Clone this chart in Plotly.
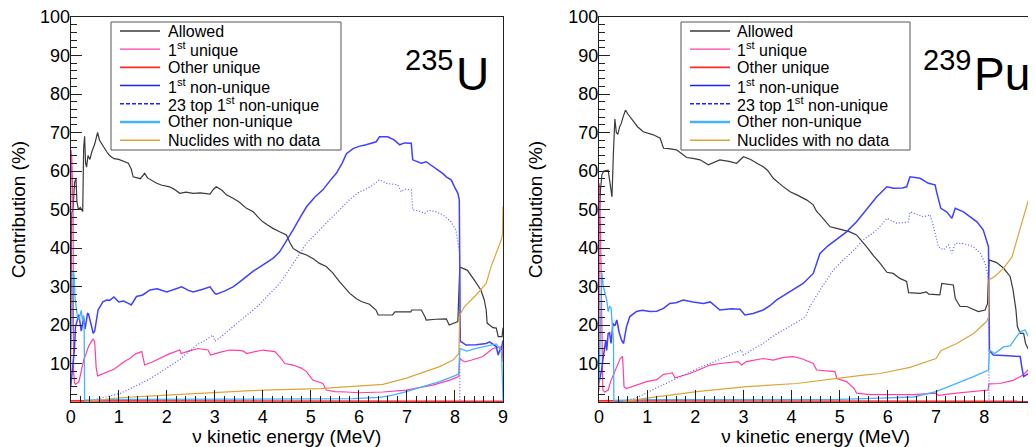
import plotly.graph_objects as go

# ---------------- data: (E [MeV], contribution [%]) ----------------
u_allowed = [(0,18),(0.02,49),(0.05,50),(0.08,57),(0.11,58),(0.13,52),(0.16,50),(0.2,50.5),(0.25,49.5),
    (0.27,66),(0.29,69),(0.31,62),(0.33,61),(0.36,64),(0.4,63),(0.44,65),(0.5,67),(0.56,70),(0.6,68),
    (0.67,66.5),(0.75,65),(0.81,64),(0.9,63.2),(1.0,63),(1.1,62.5),(1.2,62),(1.26,60.5),(1.3,58.5),
    (1.45,58),(1.54,59.4),(1.6,58.2),(1.72,57.2),(1.79,56.8),(1.9,56.3),(2.06,55.9),(2.15,55.3),
    (2.27,54.2),(2.4,54.5),(2.55,54.2),(2.7,54.3),(2.9,54),(2.97,55.2),(3.03,55.9),(3.15,55),
    (3.24,53.8),(3.38,52.9),(3.5,52),(3.66,50.3),(3.8,49.4),(3.9,48),(4.0,46.8),(4.1,46),(4.21,45.1),
    (4.35,44.2),(4.49,43.4),(4.56,41.5),(4.63,39.9),(4.77,38.8),(4.91,38.2),(5.05,37.2),(5.18,36),
    (5.32,35.2),(5.45,33.6),(5.6,31.2),(5.74,29.1),(5.81,28.2),(5.95,26.8),(6.05,26.1),(6.22,25.4),
    (6.36,23.8),(6.4,22.6),(6.7,22.6),(6.75,23.4),(7.08,23.4),(7.1,23.9),(7.3,23.9),(7.38,22),
    (7.4,21.3),(7.6,21.5),(7.82,21.6),(7.88,20),(8.06,20.9),(8.1,35.1),(8.26,34.2),(8.4,31.7),
    (8.54,29.1),(8.61,26.5),(8.65,23.9),(8.67,20.5),(8.79,19.3),(8.86,19.2),(8.9,17),(8.98,17),(9.0,19.3)]
u_first_unique = [(0,3),(0.005,65.5),(0.02,64),(0.035,58),(0.05,48),(0.06,8),(0.08,5),(0.1,4.6),
    (0.17,5.2),(0.22,8),(0.27,10.9),(0.32,12.5),(0.37,14.4),(0.42,15.5),(0.47,16.4),(0.5,15.5),
    (0.53,9),(0.56,6.8),(0.67,7.4),(0.8,8),(0.9,8.5),(1.02,9.6),(1.1,10.4),(1.23,11.3),(1.35,12.5),
    (1.48,13.1),(1.51,11.5),(1.54,9.6),(1.7,10.4),(1.86,11.3),(2.05,12.5),(2.27,13.5),(2.3,12.6),
    (2.45,13.2),(2.65,13.9),(2.86,13.5),(2.91,12.2),(3.1,12.9),(3.31,13.5),(3.5,13.4),(3.6,13.2),
    (3.66,12.6),(3.85,13.2),(4.0,13.5),(4.25,13.1),(4.35,11.8),(4.46,10),(4.63,9.6),(4.8,8.8),
    (4.91,7.9),(5.04,5.7),(5.25,4.8),(5.32,3.1),(5.5,2.7),(5.74,2.6),(6.0,2.4),(6.5,2.6),(6.99,3.1),
    (7.2,3.6),(7.54,4.4),(7.89,5.7),(8.08,6.6),(8.1,11.3),(8.2,10.4),(8.35,10.9),(8.58,11.8),
    (8.79,13.9),(8.93,14.3),(8.98,14.4),(9.0,10.4)]
u_other_unique = [(0,0.3),(0.3,0.3),(9.0,0.2)]
u_first_nonunique = [(0,4),(0.04,10),(0.08,14),(0.1,19.6),(0.13,21),(0.17,22.7),(0.22,18.4),(0.25,21),
    (0.27,21.9),(0.3,19),(0.32,20.4),(0.35,23),(0.37,22.9),(0.42,20),(0.47,17.8),(0.5,18.5),(0.57,23.9),
    (0.67,26),(0.75,26.5),(0.81,26.4),(0.9,27.3),(1.0,26),(1.1,26.2),(1.2,25.6),(1.26,25.2),(1.37,27.4),
    (1.5,27.8),(1.65,29.1),(1.8,29.4),(2.0,28.6),(2.15,29.2),(2.31,29.9),(2.45,29),(2.55,28.6),
    (2.75,29.3),(2.9,29.9),(3.0,28.2),(3.03,28),(3.2,28.8),(3.38,29.9),(3.5,31),(3.66,32.6),(3.8,34),
    (3.94,35.1),(4.1,36.4),(4.21,37.3),(4.35,39),(4.46,41.2),(4.55,43),(4.63,44.7),(4.78,48),(4.91,50.7),
    (5.08,53.2),(5.25,55.1),(5.4,57.5),(5.53,59.4),(5.65,62),(5.74,64.5),(5.88,65.8),(6.0,66.4),
    (6.15,66.8),(6.36,67.6),(6.43,68.9),(6.6,68.9),(6.74,68),(6.85,66.8),(6.95,67.3),(7.09,67.2),
    (7.12,62.9),(7.3,62),(7.4,62.4),(7.5,61.5),(7.61,60.7),(7.75,59.3),(7.82,58.5),(7.92,57.7),
    (7.99,55.9),(8.06,54.2),(8.09,52.5),(8.11,15.8),(8.15,15.5),(8.23,14.8),(8.44,14.9),(8.65,15.2),
    (8.72,15.6),(8.86,14.4),(8.9,12.2),(8.94,13.8),(8.96,13.5),(9.0,16)]
u_top23 = [(0.3,0),(0.4,0.3),(0.6,1),(0.8,1.5),(1.02,2.2),(1.2,3.2),(1.44,4.6),(1.65,6),(1.85,7.6),
    (2.05,9.2),(2.27,11),(2.45,13),(2.62,14.8),(2.8,16),(2.96,17.4),(3.0,15.8),(3.1,16.6),(3.38,19.6),
    (3.6,21.8),(3.8,23.9),(3.95,25.6),(4.07,27.2),(4.2,28.8),(4.35,30.8),(4.5,33.5),(4.63,36),
    (4.78,38.8),(4.91,41.2),(5.05,43),(5.18,44.7),(5.4,47.5),(5.6,49.9),(5.8,52.5),(6.01,54.6),
    (6.1,55),(6.25,56),(6.43,57.7),(6.57,56.8),(6.81,56.4),(6.88,54.6),(6.95,55.3),(7.09,55.1),
    (7.12,49.9),(7.25,49.6),(7.37,49),(7.45,49.8),(7.61,49.4),(7.75,48.6),(7.92,46.8),(8.02,44.7),
    (8.08,40.3),(8.1,38.6),(8.1,0),(9.0,0)]
u_other_nonunique = [(0,13.5),(0.03,20),(0.05,34.3),(0.07,33),(0.09,27),(0.12,23),(0.14,22.2),
    (0.17,21.4),(0.2,22.9),(0.22,23.8),(0.24,21.5),(0.27,22.5),(0.28,20),(0.29,0.5),(1.0,0.7),(3.0,0.7),
    (5.0,0.8),(5.88,0.9),(6.43,1.2),(6.7,1.8),(6.99,2.7),(7.33,4.0),(7.68,5.3),(8.03,7.0),(8.08,7.4),
    (8.1,13.9),(8.25,13.2),(8.44,13.9),(8.72,14.8),(8.86,15.1),(8.93,13.9),(8.97,12.8),(9.0,0.5)]
u_no_data = [(0.3,0.1),(0.6,0.5),(1.02,1.1),(1.71,1.6),(2.4,2.0),(3.1,2.4),(4.0,3.1),(5.18,3.5),
    (5.81,4.0),(6.5,4.6),(6.99,6.2),(7.33,7.6),(7.68,9.2),(7.96,10.9),(8.08,12.6),(8.1,22.6),
    (8.2,24.8),(8.44,27.8),(8.65,30.8),(8.75,35.1),(8.86,38.5),(8.96,42),(8.99,43.5),(9.0,50.8)]

pu_allowed = [(0,45),(0.03,55),(0.06,59),(0.1,60),(0.19,60.2),(0.22,57.6),(0.25,55),(0.27,53.3),
    (0.3,65),(0.33,73.5),(0.36,70),(0.39,69.5),(0.43,71.5),(0.46,72.3),(0.5,74),(0.55,75.8),(0.6,74.8),
    (0.71,72.8),(0.8,71.5),(0.92,70.2),(1.05,69.8),(1.13,69.4),(1.27,68.5),(1.34,65.9),(1.45,65.8),
    (1.61,65.5),(1.72,64.5),(1.82,63.5),(1.95,63.3),(2.1,62.9),(2.27,61.6),(2.4,62.3),(2.51,62.9),
    (2.7,62.5),(2.86,62),(3.0,63.7),(3.15,63),(3.28,62),(3.41,61.1),(3.5,60.2),(3.62,58.1),(3.8,56.2),
    (3.97,54.6),(4.11,53.8),(4.31,52.5),(4.45,51.2),(4.52,49.5),(4.59,48.6),(4.73,46.4),(4.8,45.5),
    (4.94,45.1),(5.21,44.2),(5.35,43.4),(5.45,42),(5.56,40.3),(5.7,38),(5.84,36),(5.98,33.7),
    (6.11,33.4),(6.25,32.1),(6.39,31.3),(6.43,28.4),(6.67,28.2),(6.8,28.6),(6.85,28),(7.08,27.8),
    (7.12,30.8),(7.36,30.4),(7.4,26.9),(7.5,24.8),(7.64,24.8),(7.88,23.5),(8.02,23.9),(8.07,25.6),
    (8.1,36.9),(8.26,36.2),(8.4,34.8),(8.54,32.6),(8.6,29.1),(8.66,24),(8.69,19.6),(8.75,17.8),
    (8.82,17.8),(8.86,15.2),(8.96,12.6),(9.0,13)]
pu_first_unique = [(0,3),(0.005,56.8),(0.03,45),(0.05,21),(0.07,5),(0.08,3.1),(0.12,2.6),(0.19,3.1),
    (0.24,5.3),(0.34,8.3),(0.44,11.3),(0.49,11.8),(0.52,4),(0.57,3.5),(0.8,4.5),(0.99,5.3),(1.2,5.8),
    (1.34,7.2),(1.47,7.4),(1.52,7.6),(1.58,6.3),(1.89,7.4),(2.1,8.5),(2.31,9.6),(2.51,10),(2.89,10.5),
    (2.96,9.6),(3.06,10.5),(3.41,11.3),(3.62,10.9),(3.83,11.6),(4.03,11.8),(4.2,11.3),(4.28,10.9),
    (4.45,10),(4.52,8.3),(4.9,7.9),(4.94,6.1),(5.14,5.3),(5.3,3.5),(5.35,2.3),(5.63,1.9),(6.0,1.9),
    (6.53,1.9),(7.0,2.3),(7.05,1.7),(7.43,2.3),(7.78,2.7),(8.08,3.1),(8.1,4.7),(8.32,4.8),(8.6,5.6),
    (8.81,7),(8.91,8.3),(8.97,8.7),(9.0,5)]
pu_other_unique = [(0,0.3),(0.3,0.3),(9.0,0.2)]
pu_first_nonunique = [(0,5),(0.05,8),(0.08,10.9),(0.12,14),(0.14,16.1),(0.16,13.4),(0.19,17.8),
    (0.22,18),(0.25,15.2),(0.29,20.4),(0.33,19.8),(0.37,21.3),(0.42,18),(0.47,16),(0.51,15.2),
    (0.57,19.5),(0.64,22.2),(0.78,23.5),(0.9,23.8),(1.06,23.5),(1.2,23.6),(1.34,24.3),(1.47,25.6),
    (1.6,25.8),(1.75,26.5),(1.95,26),(2.17,25.6),(2.31,26),(2.51,23.9),(2.75,24.2),(2.93,24.1),
    (3.03,22.6),(3.2,23),(3.41,23.9),(3.55,25),(3.69,26.5),(3.97,28.7),(4.1,29.5),(4.24,30.8),
    (4.45,33.4),(4.59,38.6),(4.75,40.5),(4.87,41.6),(5.14,44.2),(5.35,46.8),(5.55,50),(5.77,53.3),
    (5.98,55.9),(6.12,55.5),(6.3,55.6),(6.39,55.9),(6.46,58.5),(6.67,58.1),(6.84,56.8),(6.98,56.4),
    (7.02,54.2),(7.1,50.3),(7.22,49.4),(7.33,47.7),(7.4,50.3),(7.57,49.4),(7.71,48.1),(7.85,46.8),
    (7.98,44.7),(8.05,42.1),(8.09,40.3),(8.11,13.3),(8.19,12.2),(8.5,12),(8.75,11.8),(8.78,9.2),
    (8.82,6.6),(8.92,7.4),(9.0,8.3)]
pu_top23 = [(0.35,0),(0.5,0.2),(0.8,1.2),(1.06,2.7),(1.25,4),(1.47,5.3),(1.7,6.7),(1.89,7.9),(2.1,9),
    (2.31,10),(2.5,11.1),(2.72,12.2),(2.96,13.5),(3.0,12.2),(3.2,13.7),(3.41,15.2),(3.6,17),(3.83,18.7),
    (4.05,20.2),(4.24,21.7),(4.3,22.5),(4.38,24.8),(4.59,29.1),(4.75,32),(4.87,34.3),(5.14,37.7),
    (5.3,39.5),(5.49,42.1),(5.77,44.7),(5.9,46.5),(5.98,47.7),(6.19,46.4),(6.43,46.8),(6.46,49.4),
    (6.74,48.1),(6.88,48.6),(6.95,45.5),(7.05,40.3),(7.15,39.5),(7.26,40.8),(7.33,38.6),(7.4,41.2),
    (7.57,41.2),(7.78,40.3),(7.92,38.6),(8.02,36),(8.07,33.4),(8.1,31),(8.1,0),(9.0,0)]
pu_other_nonunique = [(0,5),(0.03,20),(0.06,33.5),(0.09,30),(0.13,28),(0.16,26.5),(0.19,23.5),
    (0.22,24.8),(0.25,24.5),(0.27,21),(0.3,16),(0.31,0.4),(1.0,0.6),(3.0,0.6),(5.0,0.7),(5.84,1.0),
    (6.53,1.3),(7.0,2.7),(7.43,4.8),(7.78,6.6),(8.09,8.3),(8.11,13.5),(8.22,12.6),(8.4,14.3),
    (8.54,14.6),(8.68,17),(8.75,18.3),(8.85,18.7),(8.92,17),(8.96,16.5),(9.0,1)]
pu_no_data = [(0.5,0.1),(0.99,1.0),(2.03,2.7),(3.07,4.0),(4.1,4.8),(4.8,6.0),(5.49,7.0),(5.84,7.4),
    (6.46,9.0),(7.0,11.3),(7.1,13.3),(7.43,15.2),(7.78,17.8),(8.05,20.9),(8.09,22),(8.1,31.7),
    (8.22,32.6),(8.4,34.7),(8.58,37.7),(8.68,42.1),(8.78,46.4),(8.89,51.6),(8.96,54.2),(8.99,57),
    (9.0,65.5)]

series_names = ["Allowed", "1<sup>st</sup> unique", "Other unique", "1<sup>st</sup> non-unique",
                "23 top 1<sup>st</sup> non-unique", "Other non-unique", "Nuclides with no data"]
x_ticks = list(range(0, 10))
y_ticks = list(range(10, 101, 10))
nuclides = [("235", "U"), ("239", "Pu")]

# ---------------- styles ----------------
FONT = "Liberation Sans, Arial, Helvetica, sans-serif"
styles = [
    dict(color="#3a3a3a", width=1.2, dash="solid"),
    dict(color="#ff3fa4", width=1.2, dash="solid"),
    dict(color="#ff2a2a", width=1.6, dash="solid"),
    dict(color="#4040ff", width=1.5, dash="solid"),
    dict(color="#5a5aff", width=1.2, dash="1px,2px"),
    dict(color="#45b2ff", width=1.3, dash="solid"),
    dict(color="#dba53a", width=1.2, dash="solid"),
]
legend_styles = [
    dict(color="#3a3a3a", width=1.3, dash="solid"),
    dict(color="#ff3fa4", width=1.3, dash="solid"),
    dict(color="#ff2a2a", width=1.6, dash="solid"),
    dict(color="#2020ff", width=1.5, dash="solid"),
    dict(color="#2020ff", width=1.5, dash="4px,2px"),
    dict(color="#45b2ff", width=2.5, dash="solid"),
    dict(color="#dba53a", width=1.5, dash="solid"),
]

# page body has an 8 px margin: the figure is placed at (8, 8) in the window
OFF = 8
WIN_W, WIN_H = 1036, 447
W, H = WIN_W - OFF, WIN_H - OFF
def px(x): return (x - OFF) / W
def py(y): return 1 - (y - OFF) / H

panels = [
    dict(data=[u_allowed, u_first_unique, u_other_unique, u_first_nonunique, u_top23,
               u_other_nonunique, u_no_data], xa="x", ya="y", dom=(70.7, 503.0),
         leg=(111, 341, 120, 160, 167), lab=(454, 455)),
    dict(data=[pu_allowed, pu_first_unique, pu_other_unique, pu_first_nonunique, pu_top23,
               pu_other_nonunique, pu_no_data], xa="x2", ya="y2", dom=(599.0, 1032.3),
         leg=(681, 910, 690, 730, 736), lab=(972, 973)),
]

fig = go.Figure()
shapes, annotations = [], []
for p, (num, sym) in zip(panels, nuclides):
    for ser, st, name in zip(p["data"], styles, series_names):
        fig.add_trace(go.Scatter(x=[a for a, b in ser], y=[b for a, b in ser], mode="lines",
                                 line=st, name=name, xaxis=p["xa"], yaxis=p["ya"],
                                 showlegend=False, hoverinfo="skip"))
    lx0, lx1, sx0, sx1, tx = p["leg"]
    shapes.append(dict(type="rect", xref="paper", yref="paper", x0=px(lx0), x1=px(lx1),
                       y0=py(150), y1=py(22), line=dict(color="#555", width=1),
                       fillcolor="white", layer="above"))
    for i, (name, st) in enumerate(zip(series_names, legend_styles)):
        yy = 31 + 18.2 * i
        shapes.append(dict(type="line", xref="paper", yref="paper", x0=px(sx0), x1=px(sx1),
                           y0=py(yy), y1=py(yy), line=st, layer="above"))
        annotations.append(dict(text=name, xref="paper", yref="paper", x=px(tx), y=py(yy),
                                xanchor="left", yanchor="middle", showarrow=False, borderpad=0,
                                font=dict(family=FONT, size=16, color="black")))
    annotations.append(dict(text=num, xref="paper", yref="paper", x=px(p["lab"][0]), y=py(60),
                            xanchor="right", yanchor="middle", showarrow=False, borderpad=0,
                            font=dict(family=FONT, size=29, color="black")))
    annotations.append(dict(text=sym, xref="paper", yref="paper", x=px(p["lab"][1]), y=py(74),
                            xanchor="left", yanchor="middle", showarrow=False, borderpad=0,
                            font=dict(family=FONT, size=46, color="black")))

def xaxis(dom):
    return dict(domain=[px(dom[0]), px(dom[1])], range=[0, 9], tickmode="array", tickvals=x_ticks,
                ticks="inside", ticklen=12, tickwidth=1, tickcolor="#222", automargin=False,
                ticklabelstandoff=-2, ticklabeloverflow="allow",
                minor=dict(tickmode="linear", tick0=0, dtick=0.2, ticks="inside", ticklen=6,
                           tickwidth=1, tickcolor="#222"),
                showline=True, linecolor="#222", linewidth=1, mirror=True, showgrid=False,
                zeroline=False, tickfont=dict(family=FONT, size=18, color="black"),
                title=dict(text="ν kinetic energy (MeV)", font=dict(family=FONT, size=19, color="black"),
                           standoff=8))

def yaxis(anchor):
    return dict(domain=[py(402), py(17)], range=[0, 100], tickmode="array", tickvals=y_ticks,
                ticks="inside", ticklen=11, tickwidth=1, tickcolor="#222", automargin=False,
                ticklabelstandoff=-4, ticklabeloverflow="allow",
                minor=dict(tickmode="linear", tick0=0, dtick=2, ticks="inside", ticklen=6,
                           tickwidth=1, tickcolor="#222"),
                showline=True, linecolor="#222", linewidth=1, mirror=True, showgrid=False,
                zeroline=False, anchor=anchor, tickfont=dict(family=FONT, size=18, color="black"),
                title=dict(text="Contribution (%)", font=dict(family=FONT, size=19, color="black"),
                           standoff=20))

fig.update_layout(
    width=W, height=H, margin=dict(l=0, r=0, t=0, b=0, autoexpand=False),
    paper_bgcolor="white", plot_bgcolor="white",
    xaxis=dict(xaxis(panels[0]["dom"]), anchor="y"),
    xaxis2=dict(xaxis(panels[1]["dom"]), anchor="y2"),
    yaxis=yaxis("x"), yaxis2=yaxis("x2"),
    shapes=shapes, annotations=annotations, showlegend=False,
)
fig.write_html("out.html")
